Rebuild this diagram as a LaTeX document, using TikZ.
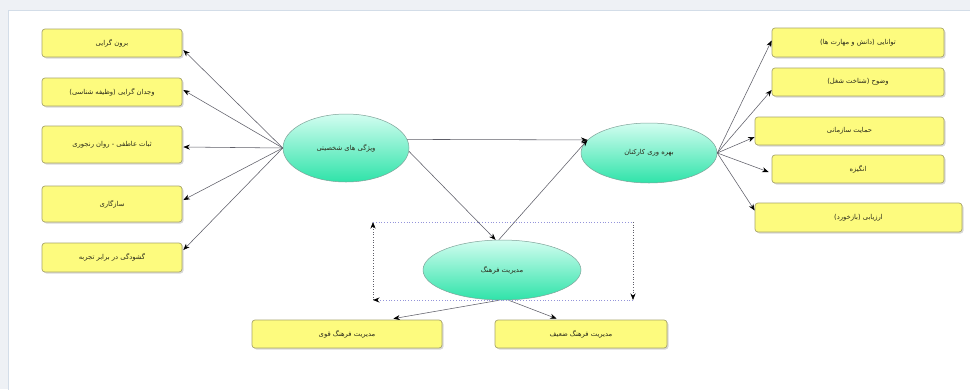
\documentclass[tikz,border=0pt]{standalone}
\usepackage{fontspec}
\newfontfamily\fa[Script=Arabic]{DejaVu Sans}
\TeXXeTstate=1
\usetikzlibrary{arrows.meta,shadows,shapes.geometric,calc}
\definecolor{boxfill}{HTML}{FDFB7E}
\definecolor{boxline}{HTML}{A9A66A}
\definecolor{elltop}{HTML}{D2FDF0}
\definecolor{ellbot}{HTML}{2FE3A9}
\definecolor{ellline}{HTML}{7FA399}
\definecolor{conn}{HTML}{5E5E68}
\definecolor{dotblue}{HTML}{9494DA}
\definecolor{txt}{HTML}{2A2A1A}
\definecolor{outer}{HTML}{EEF1F5}
\definecolor{panelline}{HTML}{D3DDE8}
\newcommand{\fat}[1]{{\fa\beginR #1\endR}}
\tikzset{
  yelbox/.style={draw=boxline, fill=boxfill, rounded corners=3pt, line width=0.7pt,
    inner sep=0pt, text=txt, font=\fa\fontsize{6.8}{8}\selectfont,
    drop shadow={shadow xshift=1.5pt, shadow yshift=-1.5pt, opacity=0.3}},
  greenell/.style={ellipse, draw=ellline, line width=0.5pt, top color=elltop, bottom color=ellbot,
    inner sep=0pt, text=txt, font=\fa\fontsize{6.8}{8}\selectfont},
  link/.style={draw=conn, line width=0.55pt, -{Stealth[length=6.5pt,width=5pt,black]}},
  dotv/.style={draw=conn, line width=0.6pt, dotted},
  doth/.style={draw=dotblue, line width=0.8pt, dotted},
  tipdot/.style={-{Stealth[length=6.5pt,width=5pt,black]}}
}
\begin{document}
\begin{tikzpicture}[x=1pt,y=-1pt]
\useasboundingbox (0,0) rectangle (970,389);
\fill[outer] (0,0) rectangle (970,389);
\draw[panelline, fill=white, line width=0.6pt] (8,10) rectangle (972,392);

% left boxes
\node[yelbox, minimum width=140pt, minimum height=28pt] (L1) at (112,43) {\fat{برون گرایی}};
\node[yelbox, minimum width=140pt, minimum height=28pt] (L2) at (112,92) {\fat{وجدان گرایی (وظیفه شناسی)}};
\node[yelbox, minimum width=140pt, minimum height=37pt] (L3) at (112,144.5) {\fat{ثبات عاطفی - روان رنجوری}};
\node[yelbox, minimum width=140pt, minimum height=36pt] (L4) at (112,204) {\fat{سازگاری}};
\node[yelbox, minimum width=140pt, minimum height=29pt] (L5) at (112,257.5) {\fat{گشودگی در برابر تجربه}};

% right boxes
\node[yelbox, minimum width=172pt, minimum height=29pt] (R1) at (858,42.5) {\fat{توانایی (دانش و مهارت ها)}};
\node[yelbox, minimum width=172pt, minimum height=28pt] (R2) at (858,82) {\fat{وضوح (شناخت شغل)}};
\node[yelbox, minimum width=189pt, minimum height=28pt] (R3) at (849.5,131) {\fat{حمایت سازمانی}};
\node[yelbox, minimum width=172pt, minimum height=28pt] (R4) at (858,169) {\fat{انگیزه}};
\node[yelbox, minimum width=207pt, minimum height=29pt] (R5) at (858.5,217.5) {\fat{ارزیابی (بازخورد)}};

% bottom boxes
\node[yelbox, minimum width=190pt, minimum height=28pt] (B1) at (347,334) {\fat{مدیریت فرهنگ قوی}};
\node[yelbox, minimum width=172pt, minimum height=28pt] (B2) at (581,334) {\fat{مدیریت فرهنگ ضعیف}};

% ellipses
\node[greenell, minimum width=126pt, minimum height=68pt] (E1) at (346,148) {\fat{ویژگی های شخصیتی}};
\node[greenell, minimum width=136pt, minimum height=60pt] (E2) at (649,153) {\fat{بهره وری کارکنان}};
\node[greenell, minimum width=158pt, minimum height=60pt] (E3) at (502,270) {\fat{مدیریت فرهنگ}};

% left connectors
\draw[link] (E1.west) -- ($(L1.east)+(1,7)$);
\draw[link] (E1.west) -- ($(L2.east)+(1,-2)$);
\draw[link] (E1.west) -- ($(L3.east)+(1,2.5)$);
\draw[link] (E1.west) -- ($(L4.east)+(1,-4)$);
\draw[link] (E1.west) -- ($(L5.east)+(1,-7.5)$);

% middle connectors
\draw[link] (E1.8) -- (E2.168);
\draw[link] (E1.-3) -- (E3.102);
\draw[link] (E3.96) -- (E2.168);

% right connectors
\draw[link] (E2.east) -- ($(R1.west)+(0,-2)$);
\draw[link] (E2.east) -- ($(R2.west)+(0,8)$);
\draw[link] (E2.east) -- ($(R3.west)+(0,6)$);
\draw[link] (E2.east) -- ($(R4.west)+(-3,3)$);
\draw[link] (E2.east) -- ($(R5.west)+(0,-7)$);

% bottom connectors
\draw[link] (E3.265) -- ($(B1.north east)+(-49,-1)$);
\draw[link] (E3.282) -- ($(B2.north west)+(62,-1)$);

% dotted cycle
\coordinate (TL) at (373,222);
\coordinate (TR) at (633,222);
\coordinate (BR) at (633,300);
\coordinate (BL) at (373,300);
\draw[dotv, tipdot] (BL) -- (TL);
\draw[doth] (TL) -- (TR);
\draw[dotv, tipdot] (TR) -- (BR);
\draw[doth, tipdot] (BR) -- (BL);
\end{tikzpicture}
\end{document}
